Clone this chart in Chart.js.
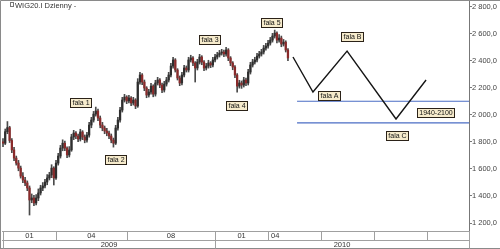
<!DOCTYPE html>
<html>
<head>
<meta charset="utf-8">
<script src="https://cdn.jsdelivr.net/npm/chart.js@4.4.1/dist/chart.umd.min.js"></script>
<style>
  html, body { margin: 0; padding: 0; background: #fff; }
</style>
</head>
<body>
<canvas id="myChart" width="500" height="249"></canvas>
<script>
// WIG20 dzienny, świeczki co ~2 sesje (krok 1/8 miesiąca od 01.2009)
const barStep = 1 / 8;

const opens = [
  1800,1790,1875,1905,1810,1740,1680,1643,1606,1547,
  1518,1496,1459,1370,1385,1348,1385,1422,1459,1474,
  1503,1533,1555,1606,1533,1643,1695,1754,1790,1754,
  1703,1740,1836,1865,1843,1821,1873,1836,1813,1850,
  1924,1961,2005,2028,1976,1924,1902,1880,1865,1843,
  1813,1790,1902,1961,2035,2109,2131,2102,2124,2087,
  2109,2065,2242,2294,2242,2198,2146,2168,2212,2153,
  2235,2257,2220,2183,2227,2257,2294,2360,2405,2331,
  2272,2235,2294,2346,2331,2405,2420,2383,2346,2390,
  2427,2390,2346,2360,2383,2368,2405,2427,2442,2456,
  2464,2449,2479,2420,2383,2353,2294,2212,2235,2220,
  2257,2235,2316,2368,2390,2405,2434,2449,2464,2493,
  2508,2530,2552,2582,2604,2552,2567,2523,2537,2479
];
const closes = [
  1790,1875,1905,1810,1740,1680,1643,1606,1547,1518,
  1496,1459,1370,1385,1348,1385,1422,1459,1474,1503,
  1533,1555,1606,1533,1643,1695,1754,1790,1754,1703,
  1740,1836,1865,1843,1821,1873,1836,1813,1850,1924,
  1961,2005,2028,1976,1924,1902,1880,1865,1843,1813,
  1790,1902,1961,2035,2109,2131,2102,2124,2087,2109,
  2065,2242,2294,2242,2198,2146,2168,2212,2153,2235,
  2257,2220,2183,2227,2257,2294,2360,2405,2331,2272,
  2235,2294,2346,2331,2405,2420,2383,2346,2390,2427,
  2390,2346,2360,2383,2368,2405,2427,2442,2456,2464,
  2449,2479,2420,2383,2353,2294,2212,2235,2220,2257,
  2235,2316,2368,2390,2405,2434,2449,2464,2493,2508,
  2530,2552,2582,2604,2552,2567,2523,2537,2479,2420
];
const highs = [
  1825,1895,1950,1915,1825,1760,1695,1663,1621,1572,
  1538,1511,1474,1415,1405,1410,1452,1479,1499,1523,
  1558,1575,1631,1616,1663,1715,1774,1815,1805,1764,
  1765,1856,1885,1875,1858,1893,1883,1851,1870,1944,
  1981,2025,2057,2043,1991,1944,1917,1900,1880,1858,
  1828,1922,1981,2055,2129,2151,2141,2144,2134,2129,
  2119,2267,2314,2304,2257,2208,2188,2232,2222,2255,
  2277,2267,2235,2247,2277,2314,2380,2425,2415,2341,
  2287,2314,2366,2361,2425,2440,2430,2393,2410,2447,
  2437,2400,2380,2403,2393,2425,2447,2462,2476,2484,
  2479,2499,2489,2430,2393,2363,2304,2255,2250,2277,
  2272,2336,2388,2410,2425,2454,2469,2484,2513,2528,
  2550,2572,2602,2626,2614,2592,2582,2557,2547,2489
];
const lows = [
  1765,1780,1860,1795,1720,1660,1628,1586,1532,1498,
  1476,1439,1259,1350,1328,1333,1365,1407,1439,1459,
  1483,1518,1535,1481,1523,1628,1680,1734,1734,1683,
  1688,1730,1816,1823,1801,1806,1816,1793,1798,1835,
  1904,1946,1990,1956,1904,1882,1860,1845,1823,1793,
  1761,1780,1887,1946,2020,2094,2082,2087,2067,2072,
  2045,2055,2227,2222,2178,2126,2131,2153,2133,2138,
  2220,2200,2163,2168,2212,2242,2279,2345,2316,2257,
  2215,2220,2279,2316,2316,2390,2363,2242,2331,2375,
  2370,2326,2331,2345,2348,2353,2390,2412,2427,2441,
  2429,2434,2400,2363,2333,2274,2168,2197,2195,2205,
  2215,2220,2301,2353,2375,2390,2419,2434,2449,2478,
  2493,2515,2537,2567,2532,2537,2503,2508,2464,2400
];

// scenariusz fal A-B-C (miesiące od 01.2009)
const projMonths = [16.41, 17.54, 19.47, 22.24, 23.94];
const projValues = [2427, 2168, 2471, 1969, 2257];

// strefa wsparcia 1940-2100
const zoneLevels = [2100, 1940];
const zoneStart = 16.64;

// oś czasu
const monthTicks = [0, 3, 7, 12, 15, 18, 21, 24];
const monthLabels = ['01', '04', '08', '01', '04', '', '', ''];
const yearTicks = [0, 12];
const yearLabels = ['2009', '2010'];

// opisy fal
const waveTexts = ['fala 1', 'fala 2', 'fala 3', 'fala 4', 'fala 5', 'fala A', 'fala B', 'fala C', '1940-2100'];
const waveMonths = [4.41, 6.34, 11.71, 13.19, 15.22, 18.45, 19.75, 22.30, 24.45];
const waveValues = [2091, 1669, 2560, 2072, 2685, 2142, 2575, 1850, 2017];

const xMin = -0.057;
const xMax = 26.37;
const FONT = '"Liberation Sans", Arial, sans-serif';

const wickData = highs.map((h, i) => ({ x: i * barStep, y: [lows[i], h] }));
const bodyData = opens.map((o, i) => ({ x: i * barStep, y: [o, closes[i]] }));
const bodyColors = opens.map((o, i) => (closes[i] >= o ? '#2e2e2e' : '#8a2a2a'));

const lineStyle = { type: 'line', pointRadius: 0, tension: 0, fill: false };

// rysuje pasek dat, tytuł i etykiety fal
const decorPlugin = {
  id: 'decor',
  afterDraw(chart) {
    const { ctx, chartArea, scales } = chart;
    const x = scales.x;
    const y = scales.y;
    const bandTop = chartArea.bottom;
    const bandMid = bandTop + 9;
    const bandBot = 248.5;
    ctx.save();

    // ramka
    ctx.strokeStyle = '#8a8a8a';
    ctx.lineWidth = 1;
    ctx.beginPath();
    ctx.moveTo(0.5, 249); ctx.lineTo(0.5, 0.5); ctx.lineTo(500, 0.5);
    ctx.moveTo(0, bandBot); ctx.lineTo(500, bandBot);
    ctx.stroke();

    // pasek dat
    ctx.strokeStyle = '#a0a0a0';
    ctx.beginPath();
    ctx.moveTo(chartArea.left, bandTop + 0.5); ctx.lineTo(chartArea.right + 1, bandTop + 0.5);
    ctx.moveTo(chartArea.left, bandMid + 0.5); ctx.lineTo(chartArea.right + 1, bandMid + 0.5);
    ctx.moveTo(chartArea.right + 0.5, bandTop); ctx.lineTo(chartArea.right + 0.5, bandBot);
    monthTicks.forEach(m => {
      const px = Math.round(x.getPixelForValue(m)) + 0.5;
      const full = yearTicks.includes(m);
      ctx.moveTo(px, bandTop); ctx.lineTo(px, full ? bandBot : bandMid);
    });
    ctx.stroke();

    ctx.fillStyle = '#333';
    ctx.font = '7.5px ' + FONT;
    ctx.textBaseline = 'middle';
    monthLabels.forEach((lab, i) => {
      if (!lab) return;
      const a = x.getPixelForValue(monthTicks[i]);
      const b = x.getPixelForValue(monthTicks[i + 1]);
      if (i === 4) {
        ctx.textAlign = 'left';
        ctx.fillText(lab, a + 3, bandTop + 5);
      } else {
        ctx.textAlign = 'center';
        ctx.fillText(lab, (a + b) / 2, bandTop + 5);
      }
    });
    yearLabels.forEach((lab, i) => {
      const a = x.getPixelForValue(yearTicks[i]);
      const b = i + 1 < yearTicks.length ? x.getPixelForValue(yearTicks[i + 1]) : chartArea.right;
      ctx.textAlign = 'center';
      ctx.fillText(lab, (a + b) / 2, bandMid + 4.5);
    });

    // tytuł
    ctx.strokeStyle = '#777';
    ctx.strokeRect(10.5, 2.5, 3, 4);
    ctx.fillStyle = '#333';
    ctx.textAlign = 'left';
    ctx.font = '7.5px ' + FONT;
    ctx.fillText('WIG20.I Dzienny -', 15, 5.5);

    // etykiety fal
    ctx.font = '7px ' + FONT;
    ctx.textAlign = 'center';
    waveTexts.forEach((t, i) => {
      const cx = x.getPixelForValue(waveMonths[i]);
      const cy = y.getPixelForValue(waveValues[i]);
      const w = Math.round(ctx.measureText(t).width + 4);
      const h = 9;
      const bx = Math.round(cx - w / 2) + 0.5;
      const by = Math.round(cy - h / 2) + 0.5;
      ctx.fillStyle = '#f6ebcc';
      ctx.fillRect(bx, by, w, h);
      ctx.strokeStyle = '#2b2218';
      ctx.strokeRect(bx, by, w, h);
      ctx.fillStyle = '#111';
      ctx.fillText(t, bx + w / 2, by + h / 2 + 0.5);
    });
    ctx.restore();
  }
};

const fmt = v => {
  const s = String(v);
  return (s.length > 3 ? s.slice(0, -3) + ' ' + s.slice(-3) : s) + ',0';
};

new Chart(document.getElementById('myChart').getContext('2d'), {
  data: {
    datasets: [
      {
        type: 'bar',
        data: wickData,
        backgroundColor: '#4a4a4a',
        barThickness: 1,
        grouped: false,
        order: 3
      },
      {
        type: 'bar',
        data: bodyData,
        backgroundColor: bodyColors,
        barThickness: 1.6,
        minBarLength: 1,
        grouped: false,
        order: 2
      },
      {
        ...lineStyle,
        data: projMonths.map((m, i) => ({ x: m, y: projValues[i] })),
        borderColor: '#151515',
        borderWidth: 1.4,
        order: 1
      },
      ...zoneLevels.map(v => ({
        ...lineStyle,
        data: [{ x: zoneStart, y: v }, { x: xMax, y: v }],
        borderColor: '#4a6cc4',
        borderWidth: 1.2,
        order: 1
      }))
    ]
  },
  options: {
    responsive: false,
    animation: false,
    layout: { padding: { left: 2, top: 1, right: 0, bottom: 18 } },
    plugins: {
      legend: { display: false },
      tooltip: { enabled: false }
    },
    scales: {
      x: {
        type: 'linear',
        display: false,
        offset: false,
        min: xMin,
        max: xMax
      },
      y: {
        type: 'linear',
        position: 'right',
        min: 1141,
        max: 2841,
        beginAtZero: false,
        afterFit(scale) {
          scale.width = 31;
          scale.paddingTop = 0;
          scale.paddingBottom = 0;
        },
        border: { display: true, color: '#777', dash: [1, 1] },
        grid: { drawOnChartArea: false, drawTicks: true, tickLength: 3, color: '#777' },
        ticks: {
          stepSize: 200,
          includeBounds: false,
          padding: 0,
          color: '#444',
          font: { family: FONT, size: 7.5 },
          callback: fmt
        }
      }
    }
  },
  plugins: [decorPlugin]
});
</script>
</body>
</html>
